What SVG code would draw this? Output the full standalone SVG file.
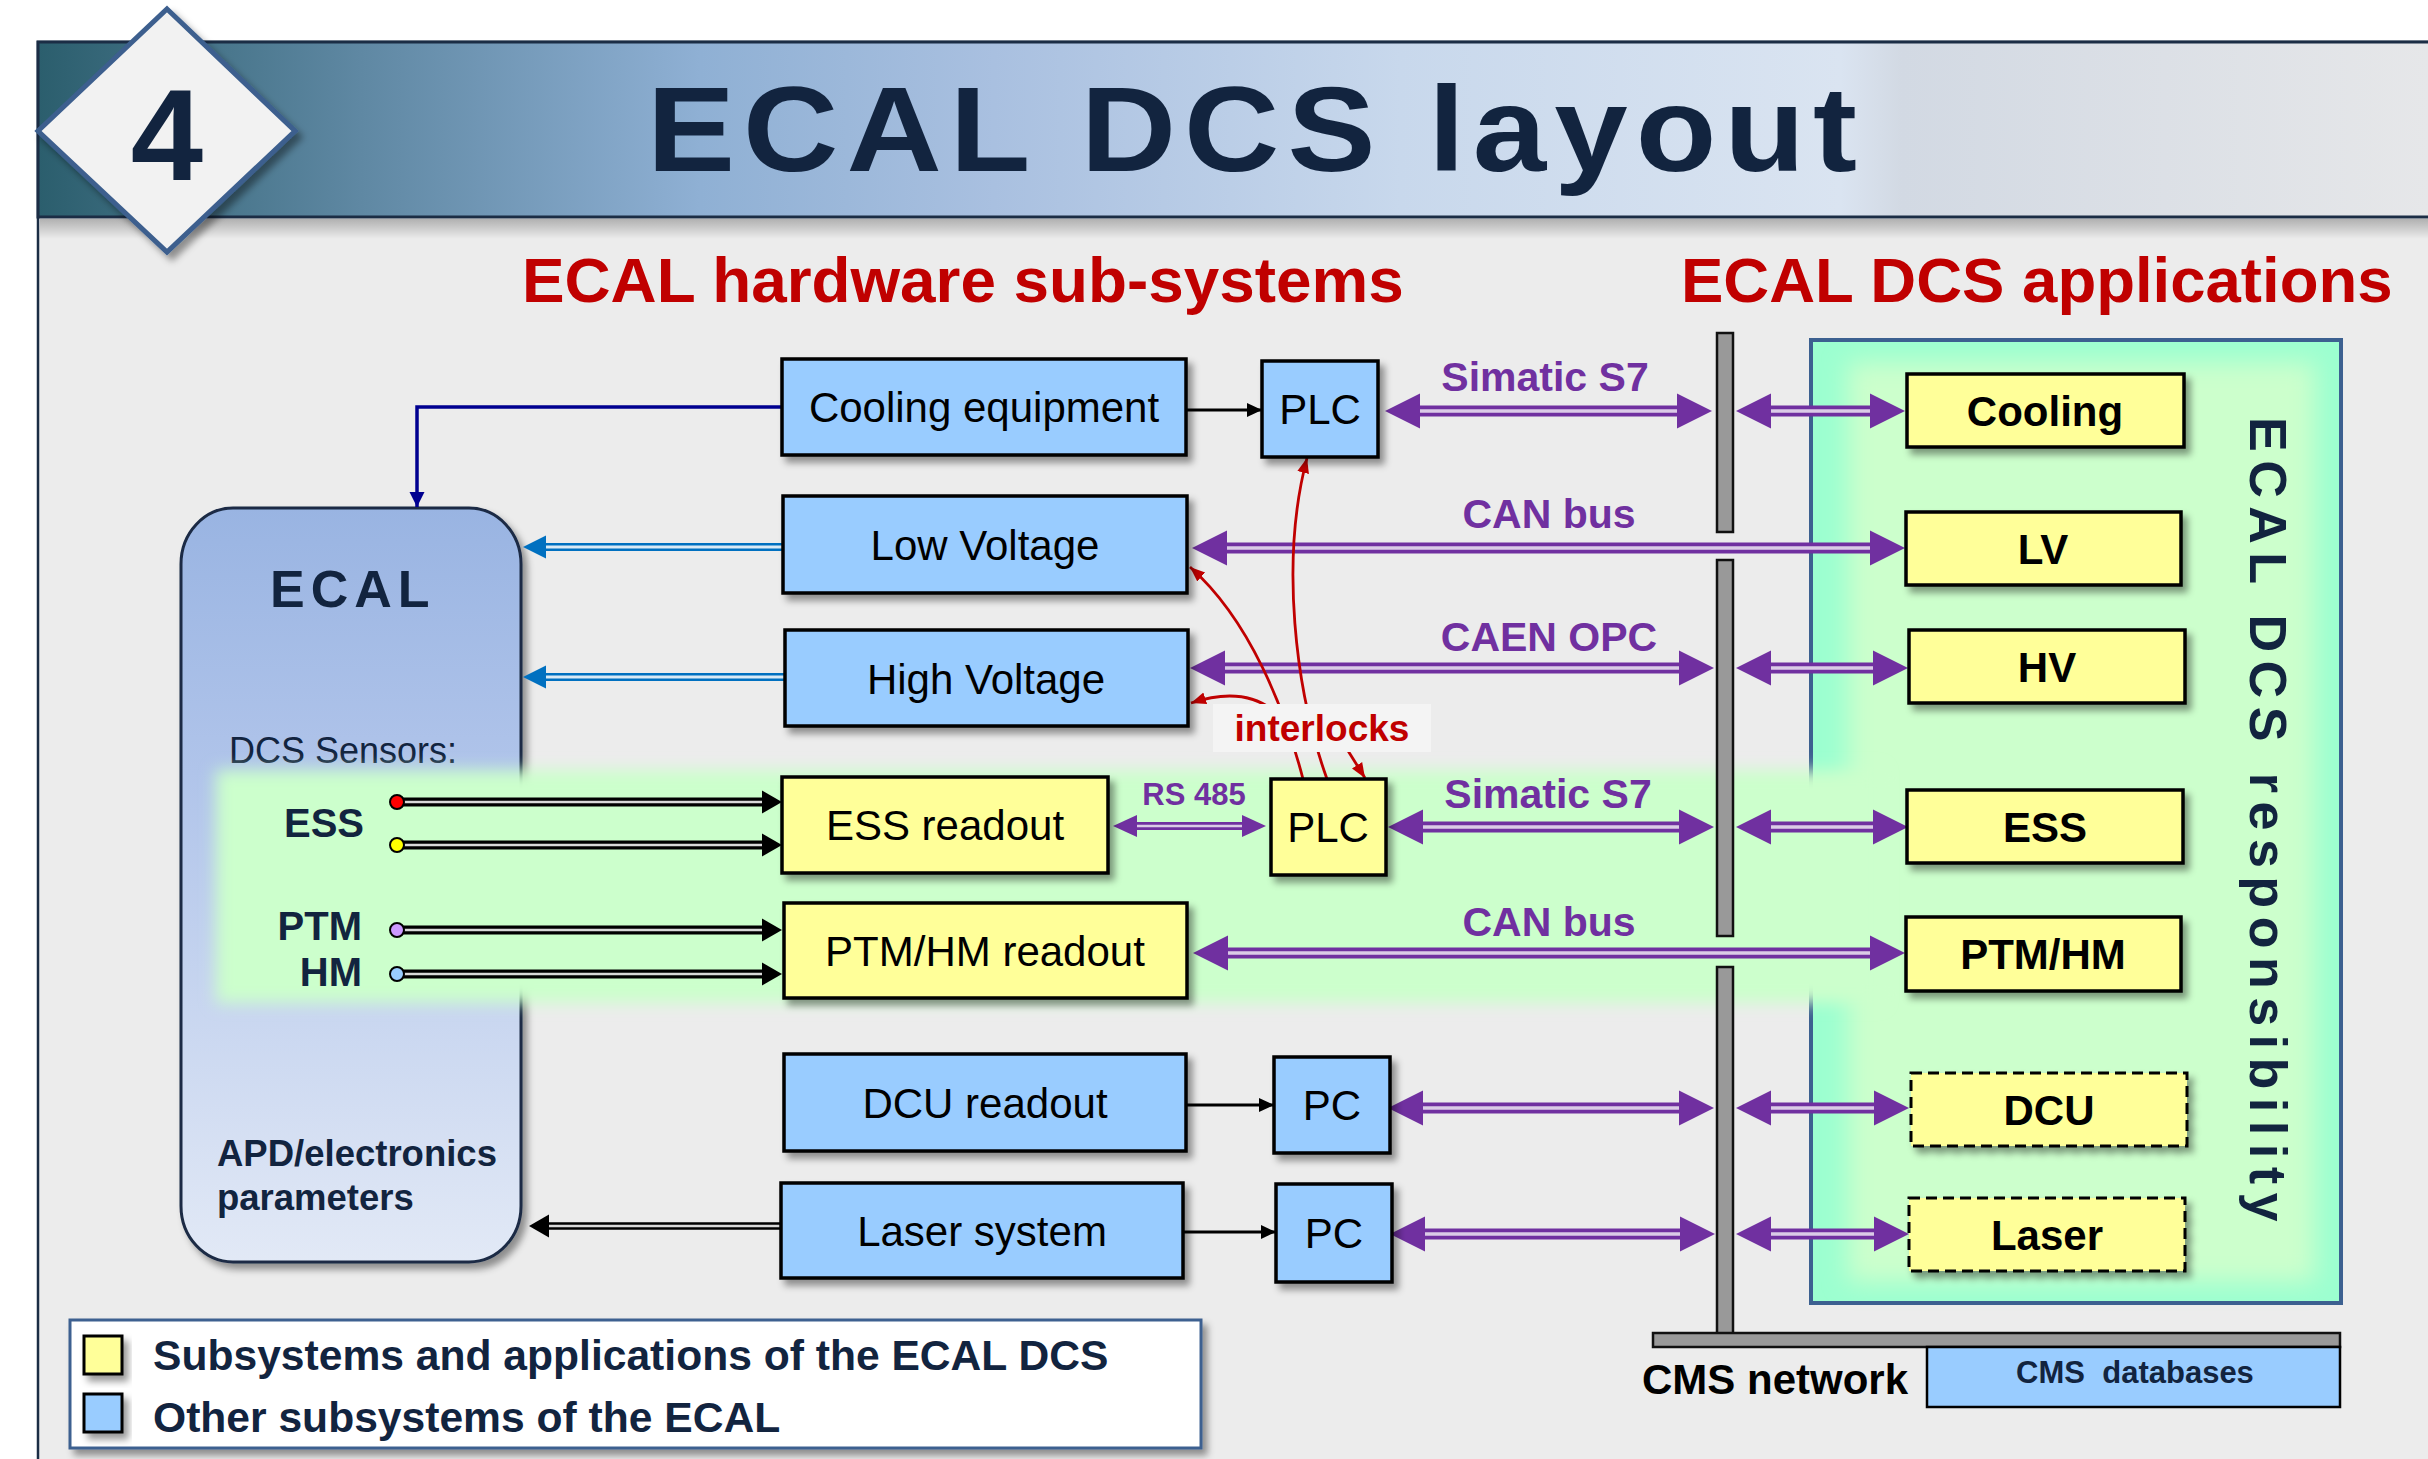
<svg xmlns="http://www.w3.org/2000/svg" width="2428" height="1459" viewBox="0 0 2428 1459">
<defs>
<style>
text{font-family:"Liberation Sans",Arial,Helvetica,sans-serif}
.bx{fill:#99ccff;stroke:#000;stroke-width:3.5;filter:url(#sh)}
.yb{fill:#ffff99;stroke:#000;stroke-width:3.5;filter:url(#sh)}
.yd{fill:#ffff99;stroke:#000;stroke-width:3;stroke-dasharray:11 6;filter:url(#sh)}
.t42{font-size:42px;text-anchor:middle;fill:#000}
.b42{font-size:42px;font-weight:bold;text-anchor:middle;fill:#000}
.pl{font-size:41px;font-weight:bold;fill:#7030a0;text-anchor:middle}
.ps{fill:none;stroke:#7030a0;stroke-width:11;marker-start:url(#ph);marker-end:url(#ph)}
.pss{fill:none;stroke:#7030a0;stroke-width:8;marker-start:url(#phs);marker-end:url(#phs)}
.pg{fill:none;stroke:#fff;stroke-opacity:.75;stroke-width:3.5}
.pgs{fill:none;stroke:#fff;stroke-opacity:.75;stroke-width:2.5}
.kd{fill:none;stroke:#000;stroke-width:9;marker-end:url(#kh)}
.kg{fill:none;stroke:#fff;stroke-opacity:.85;stroke-width:2.6}
.bd{fill:none;stroke:#0070c0;stroke-width:8;marker-end:url(#bh)}
.ks{fill:none;stroke:#000;stroke-width:3;marker-end:url(#ka)}
.rc{fill:none;stroke:#c00000;stroke-width:2.8;marker-end:url(#ra)}
.navy{fill:#12243f}
.bar{fill:#999;stroke:#111;stroke-width:2.5}
</style>
<linearGradient id="hdr" gradientUnits="userSpaceOnUse" x1="38" y1="0" x2="2428" y2="0">
<stop offset="0" stop-color="#2b5e6d"/>
<stop offset="0.135" stop-color="#5f88a3"/>
<stop offset="0.277" stop-color="#8fb0d4"/>
<stop offset="0.4" stop-color="#a9c0e0"/>
<stop offset="0.57" stop-color="#c8d8ec"/>
<stop offset="0.754" stop-color="#dae4f1"/>
<stop offset="0.78" stop-color="#d2d9e3"/>
<stop offset="1" stop-color="#e6e7e9"/>
</linearGradient>
<linearGradient id="hsh" x1="0" y1="0" x2="0" y2="1">
<stop offset="0" stop-color="#000" stop-opacity="0.25"/>
<stop offset="1" stop-color="#000" stop-opacity="0"/>
</linearGradient>
<linearGradient id="ecg" x1="0" y1="0" x2="0" y2="1">
<stop offset="0" stop-color="#99b4e2"/>
<stop offset="0.35" stop-color="#b0c4ea"/>
<stop offset="1" stop-color="#e2e9f6"/>
</linearGradient>
<filter id="sh" x="-15%" y="-15%" width="140%" height="150%">
<feDropShadow dx="5" dy="6" stdDeviation="3.5" flood-color="#000" flood-opacity="0.4"/>
</filter>
<filter id="glow" x="-20%" y="-20%" width="140%" height="140%">
<feGaussianBlur stdDeviation="12"/>
</filter>
<filter id="bandb" x="-5%" y="-20%" width="110%" height="140%">
<feGaussianBlur stdDeviation="8"/>
</filter>
<marker id="ph" viewBox="0 -18 36 36" refX="0" refY="0" markerWidth="36" markerHeight="36" markerUnits="userSpaceOnUse" orient="auto-start-reverse">
<path d="M0,-17.5 L35,0 L0,17.5z" fill="#7030a0"/>
</marker>
<marker id="phs" viewBox="0 -12 25 24" refX="0" refY="0" markerWidth="25" markerHeight="24" markerUnits="userSpaceOnUse" orient="auto-start-reverse">
<path d="M0,-11 L24,0 L0,11z" fill="#7030a0"/>
</marker>
<marker id="kh" viewBox="0 -12 21 24" refX="0" refY="0" markerWidth="21" markerHeight="24" markerUnits="userSpaceOnUse" orient="auto">
<path d="M0,-11.5 L20,0 L0,11.5z" fill="#000"/>
</marker>
<marker id="bh" viewBox="0 -12 24 24" refX="0" refY="0" markerWidth="24" markerHeight="24" markerUnits="userSpaceOnUse" orient="auto">
<path d="M0,-11.5 L23,0 L0,11.5z" fill="#0070c0"/>
</marker>
<marker id="ka" viewBox="0 -8 16 16" refX="15" refY="0" markerWidth="16" markerHeight="16" markerUnits="userSpaceOnUse" orient="auto">
<path d="M0,-7 L15,0 L0,7z" fill="#000"/>
</marker>
<marker id="na" viewBox="0 -8 16 16" refX="15" refY="0" markerWidth="16" markerHeight="16" markerUnits="userSpaceOnUse" orient="auto">
<path d="M0,-7.5 L15,0 L0,7.5z" fill="#000090"/>
</marker>
<marker id="ra" viewBox="0 -7 16 14" refX="15" refY="0" markerWidth="16" markerHeight="14" markerUnits="userSpaceOnUse" orient="auto">
<path d="M0,-6 L15,0 L0,6z" fill="#c00000"/>
</marker>
</defs>

<rect x="0" y="0" width="2428" height="1459" fill="#fff"/>
<rect x="38" y="42" width="2400" height="1430" fill="#ececec" stroke="#1b2d45" stroke-width="2.5"/>
<g id="header">
<rect x="38" y="42" width="2400" height="175" fill="url(#hdr)" stroke="#1b2d45" stroke-width="3"/>
<rect x="40" y="219" width="2390" height="20" fill="url(#hsh)"/>
<text transform="translate(647,171) scale(1.1,1)" x="0" y="0" font-size="120" font-weight="bold" letter-spacing="7.3" class="navy">ECAL DCS layout</text>
</g>
<g id="badge">
<polygon points="167,9 295,131 167,252 38,131" fill="#f2f2f2" stroke="#3c5f8e" stroke-width="5" filter="url(#sh)"/>
<text x="167" y="180" font-size="130" font-weight="bold" text-anchor="middle" class="navy">4</text>
</g>
<text x="522" y="302" font-size="63.8" font-weight="bold" fill="#c00000">ECAL hardware sub-systems</text>
<text x="1681" y="302" font-size="63.5" font-weight="bold" fill="#c00000">ECAL DCS applications</text>

<g id="responsibility">
<rect x="1811" y="340" width="530" height="963" fill="#9cffd0"/>
<rect x="1848" y="362" width="467" height="920" fill="#ccffcc" filter="url(#glow)"/>
<rect x="1811" y="340" width="530" height="963" fill="none" stroke="#3c6090" stroke-width="4"/>
<text transform="translate(2250,417) rotate(90)" font-size="52" font-weight="bold" letter-spacing="8.5" class="navy">ECAL DCS responsibility</text>
</g>

<g id="ecal">
<rect x="181" y="508" width="340" height="754" rx="52" ry="56" fill="url(#ecg)" stroke="#1a2a44" stroke-width="3" filter="url(#sh)"/>
<text x="270" y="607" font-size="52" font-weight="bold" letter-spacing="6" class="navy">ECAL</text>
<text x="229" y="763" font-size="36" class="navy">DCS Sensors:</text>
<text x="217" y="1166" font-size="36.5" font-weight="bold" class="navy">APD/electronics</text>
<text x="217" y="1210" font-size="36.5" font-weight="bold" class="navy">parameters</text>
</g>

<rect id="band" x="216" y="770" width="1665" height="233" fill="#ccffcc" filter="url(#bandb)"/>

<g id="sensors">
<text x="364" y="837" font-size="40" font-weight="bold" text-anchor="end" class="navy">ESS</text>
<text x="362" y="940" font-size="40" font-weight="bold" text-anchor="end" class="navy">PTM</text>
<text x="362" y="986" font-size="40" font-weight="bold" text-anchor="end" class="navy">HM</text>
</g>

<g id="connectors">
<path d="M782,407 H417 V507" fill="none" stroke="#000090" stroke-width="3.5" marker-end="url(#na)"/>
<path class="bd" d="M783,547 H546"/><path class="kg" style="stroke-width:3" d="M783,547 H546"/>
<path class="bd" d="M785,677 H546"/><path class="kg" style="stroke-width:3" d="M785,677 H546"/>
<path class="kd" style="stroke-width:7.5;marker-end:url(#kh)" d="M781,1226 H549"/><path class="kg" d="M781,1226 H549"/>

<path class="kd" d="M397,802 H762"/><path class="kg" d="M404,802 H762"/>
<path class="kd" d="M397,845 H762"/><path class="kg" d="M404,845 H762"/>
<path class="kd" d="M397,930 H762"/><path class="kg" d="M404,930 H762"/>
<path class="kd" d="M397,974 H762"/><path class="kg" d="M404,974 H762"/>

<path class="ks" d="M1186,410 H1262"/>
<path class="ks" d="M1186,1105 H1274"/>
<path class="ks" d="M1183,1232 H1276"/>

<path class="ps" d="M1420,411 H1677"/><path class="pg" d="M1420,411 H1677"/>
<path class="ps" d="M1771,411 H1870"/><path class="pg" d="M1771,411 H1870"/>
<path class="ps" d="M1227,548 H1870"/><path class="pg" d="M1227,548 H1870"/>
<path class="ps" d="M1225,668 H1679"/><path class="pg" d="M1225,668 H1679"/>
<path class="ps" d="M1771,668 H1873"/><path class="pg" d="M1771,668 H1873"/>
<path class="ps" d="M1423,827 H1679"/><path class="pg" d="M1423,827 H1679"/>
<path class="ps" d="M1771,827 H1873"/><path class="pg" d="M1771,827 H1873"/>
<path class="ps" d="M1228,953 H1870"/><path class="pg" d="M1228,953 H1870"/>
<path class="ps" d="M1423,1108 H1679"/><path class="pg" d="M1423,1108 H1679"/>
<path class="ps" d="M1771,1108 H1874"/><path class="pg" d="M1771,1108 H1874"/>
<path class="ps" d="M1425,1234 H1680"/><path class="pg" d="M1425,1234 H1680"/>
<path class="ps" d="M1771,1234 H1874"/><path class="pg" d="M1771,1234 H1874"/>
<path class="pss" d="M1137,826 H1242"/><path class="pgs" d="M1137,826 H1242"/>

<path class="rc" d="M1303,779 C1285,710 1250,620 1190,567"/>
<path class="rc" d="M1327,779 C1295,690 1280,560 1307,458"/>
<path class="rc" d="M1285,722 C1262,694 1230,690 1191,703"/>
<path class="rc" d="M1332,725 L1365,778"/>

<text x="1545" y="391" class="pl">Simatic S7</text>
<text x="1549" y="528" class="pl">CAN bus</text>
<text x="1549" y="651" class="pl">CAEN OPC</text>
<text x="1548" y="808" class="pl">Simatic S7</text>
<text x="1549" y="936" class="pl">CAN bus</text>
<text x="1194" y="805" class="pl" style="font-size:31px">RS 485</text>
</g>

<g id="interlocks">
<rect x="1213" y="704" width="218" height="48" fill="#f4f4f4"/>
<text x="1322" y="741" font-size="37" font-weight="bold" text-anchor="middle" fill="#c00000">interlocks</text>
</g>

<g id="sensor-dots">
<circle cx="397" cy="802" r="7" fill="#ff0000" stroke="#000" stroke-width="2"/>
<circle cx="397" cy="845" r="7" fill="#ffff00" stroke="#000" stroke-width="2"/>
<circle cx="397" cy="930" r="7" fill="#cc99ff" stroke="#000" stroke-width="2"/>
<circle cx="397" cy="974" r="7" fill="#99ccff" stroke="#000" stroke-width="2"/>
</g>

<g id="cms-network">
<rect class="bar" x="1717" y="333" width="16" height="199"/>
<rect class="bar" x="1717" y="560" width="16" height="376"/>
<rect class="bar" x="1717" y="967" width="16" height="367"/>
<rect class="bar" x="1653" y="1333" width="687" height="14"/>
<text x="1642" y="1394" font-size="42" font-weight="bold" fill="#000">CMS network</text>
</g>
<g id="cms-databases">
<rect x="1927" y="1347" width="413" height="60" fill="#99ccff" stroke="#000" stroke-width="2.5"/>
<text x="2135" y="1383" font-size="31" font-weight="bold" text-anchor="middle" class="navy" xml:space="preserve">CMS  databases</text>
</g>

<g id="cooling-equipment"><rect class="bx" x="782" y="359" width="404" height="96"/><text class="t42" x="984" y="422">Cooling equipment</text></g>
<g id="plc-cooling"><rect class="bx" x="1262" y="361" width="116" height="96"/><text class="t42" x="1320" y="424">PLC</text></g>
<g id="low-voltage"><rect class="bx" x="783" y="496" width="404" height="97"/><text class="t42" x="985" y="560">Low Voltage</text></g>
<g id="high-voltage"><rect class="bx" x="785" y="630" width="403" height="96"/><text class="t42" x="986" y="694">High Voltage</text></g>
<g id="ess-readout"><rect class="yb" x="782" y="777" width="326" height="96"/><text class="t42" x="945" y="840">ESS readout</text></g>
<g id="plc-ess"><rect class="yb" x="1271" y="779" width="115" height="96"/><text class="t42" x="1328" y="842">PLC</text></g>
<g id="ptmhm-readout"><rect class="yb" x="784" y="903" width="403" height="95"/><text class="t42" x="985" y="966">PTM/HM readout</text></g>
<g id="dcu-readout"><rect class="bx" x="784" y="1054" width="402" height="97"/><text class="t42" x="985" y="1118">DCU readout</text></g>
<g id="laser-system"><rect class="bx" x="781" y="1183" width="402" height="95"/><text class="t42" x="982" y="1246">Laser system</text></g>
<g id="pc-dcu"><rect class="bx" x="1274" y="1057" width="116" height="96"/><text class="t42" x="1332" y="1120">PC</text></g>
<g id="pc-laser"><rect class="bx" x="1276" y="1184" width="116" height="98"/><text class="t42" x="1334" y="1248">PC</text></g>

<g id="app-cooling"><rect class="yb" x="1907" y="374" width="277" height="73"/><text class="b42" x="2045" y="426">Cooling</text></g>
<g id="app-lv"><rect class="yb" x="1906" y="512" width="275" height="73"/><text class="b42" x="2043" y="564">LV</text></g>
<g id="app-hv"><rect class="yb" x="1909" y="630" width="276" height="73"/><text class="b42" x="2047" y="682">HV</text></g>
<g id="app-ess"><rect class="yb" x="1907" y="790" width="276" height="73"/><text class="b42" x="2045" y="842">ESS</text></g>
<g id="app-ptmhm"><rect class="yb" x="1906" y="917" width="275" height="74"/><text class="b42" x="2043" y="969">PTM/HM</text></g>
<g id="app-dcu"><rect class="yd" x="1911" y="1073" width="276" height="73"/><text class="b42" x="2049" y="1125">DCU</text></g>
<g id="app-laser"><rect class="yd" x="1909" y="1198" width="276" height="73"/><text class="b42" x="2047" y="1250">Laser</text></g>

<g id="legend">
<rect x="70" y="1320" width="1131" height="128" fill="#fff" stroke="#3c6090" stroke-width="3" filter="url(#sh)"/>
<rect x="84" y="1336" width="38" height="38" fill="#ffff99" stroke="#000" stroke-width="3" filter="url(#sh)"/>
<rect x="84" y="1394" width="38" height="38" fill="#99ccff" stroke="#000" stroke-width="3" filter="url(#sh)"/>
<text x="153" y="1370" font-size="42.6" font-weight="bold" class="navy">Subsystems and applications of the ECAL DCS</text>
<text x="153" y="1432" font-size="42.6" font-weight="bold" class="navy">Other subsystems of the ECAL</text>
</g>
</svg>
